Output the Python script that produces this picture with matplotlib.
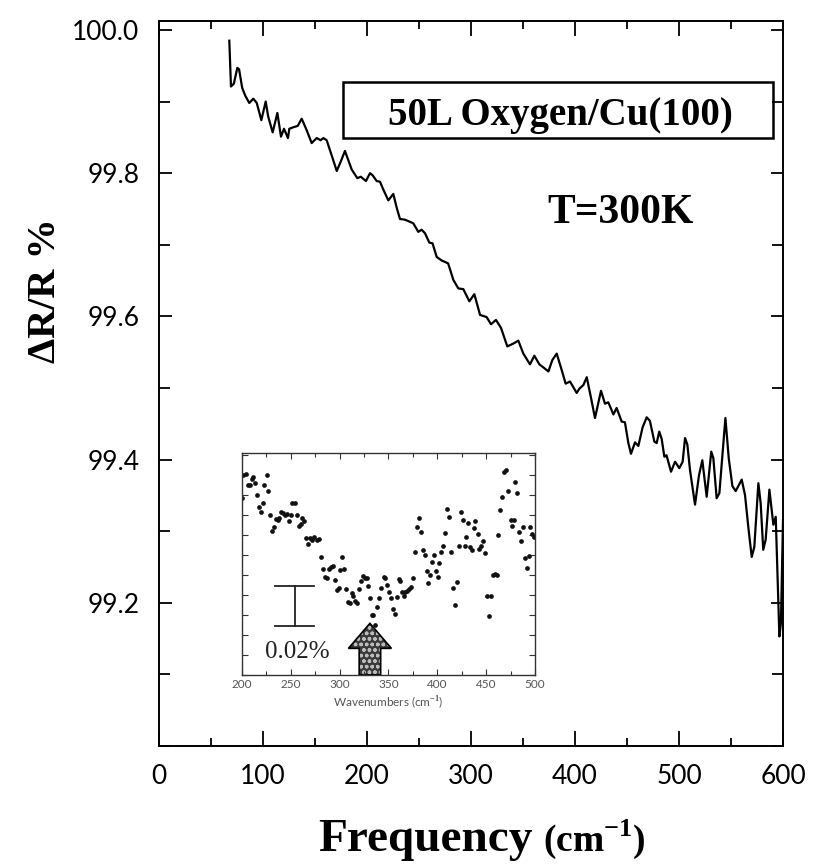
import matplotlib
matplotlib.use("Agg")
import matplotlib.pyplot as plt
from matplotlib.patches import Polygon, Rectangle
from matplotlib.ticker import MultipleLocator, FixedLocator

# main spectrum: frequency (cm-1) vs reflectance (%)
freq = [67.6, 69.2, 72, 75.3, 77, 80, 83, 86.8, 90.7, 94, 98.4, 102.6, 105, 109.3,
        113.8, 117.3, 120.2, 124, 125.3, 129, 133.4, 137.2, 142, 146.8, 151.6, 155.4,
        158, 161.2, 166, 170.9, 174.7, 178.8, 182, 185.3, 190.7, 194, 199, 202.9,
        205.4, 209.3, 212.5, 215.7, 220.5, 225.3, 228.5, 231.7, 236.5, 244.5, 249.3,
        252.5, 255.8, 259.9, 263, 267, 271.8, 278, 283, 287.8, 292.6, 298.4, 303.2,
        308.7, 315, 319.2, 324, 328.8, 334.9, 340.7, 345.5, 350.3, 356.7, 360.9,
        365.7, 370.2, 374.4, 378.2, 382.4, 387.2, 391, 395.2, 398.4, 401.6, 404.2,
        408, 411.3, 415.4, 419.2, 425, 428.8, 432, 436.9, 440, 444.9, 448, 451.3,
        453.8, 457.7, 460.9, 465, 468.9, 472, 476.3, 478.5, 481, 483.3, 485.9, 488,
        492.3, 496.2, 500.3, 503.5, 505.8, 508, 510.6, 515.4, 519.2, 522.4, 526.6,
        531, 533, 536.2, 538.8, 544.6, 547.8, 551.3, 554.5, 560.3, 563.5, 566.6,
        569.9, 572.4, 576.3, 578.5, 581, 583.3, 586.9, 588.5, 590.7, 593, 596.5,
        598, 600]
refl = [99.985, 99.921, 99.925, 99.947, 99.945, 99.919, 99.908, 99.898, 99.904, 99.898,
        99.874, 99.900, 99.879, 99.857, 99.884, 99.851, 99.862, 99.849, 99.862, 99.864,
        99.866, 99.876, 99.860, 99.842, 99.849, 99.846, 99.849, 99.846, 99.825, 99.803,
        99.816, 99.831, 99.818, 99.805, 99.793, 99.795, 99.789, 99.800, 99.797, 99.789,
        99.788, 99.777, 99.762, 99.771, 99.752, 99.736, 99.735, 99.730, 99.718, 99.721,
        99.716, 99.703, 99.702, 99.683, 99.678, 99.674, 99.651, 99.639, 99.638, 99.621,
        99.631, 99.602, 99.599, 99.589, 99.595, 99.584, 99.558, 99.562, 99.566, 99.548,
        99.533, 99.545, 99.533, 99.528, 99.523, 99.539, 99.548, 99.525, 99.506, 99.509,
        99.501, 99.493, 99.499, 99.504, 99.515, 99.486, 99.458, 99.496, 99.478, 99.480,
        99.463, 99.472, 99.453, 99.452, 99.423, 99.408, 99.424, 99.419, 99.445, 99.459,
        99.454, 99.425, 99.423, 99.439, 99.429, 99.404, 99.406, 99.383, 99.397, 99.388,
        99.397, 99.430, 99.421, 99.385, 99.337, 99.378, 99.399, 99.348, 99.411, 99.402,
        99.346, 99.353, 99.458, 99.402, 99.363, 99.356, 99.372, 99.350, 99.306, 99.264,
        99.278, 99.367, 99.339, 99.274, 99.288, 99.358, 99.337, 99.309, 99.320, 99.153,
        99.172, 99.316]
ytick_vals = [99.2, 99.4, 99.6, 99.8, 100.0]

# inset: wavenumbers vs relative change (%)
inset_wn = [200, 201.4, 204.1, 205.8, 208.2, 209.9, 211.6, 213.3, 215, 217.1, 219.4,
            221.2, 222.9, 225.2, 227, 229, 231, 232.8, 234.8, 236.5, 238.2, 240.3,
            242.3, 244, 245.7, 248.1, 249.8, 251.5, 253.9, 256, 258.3, 260, 261.4,
            263.5, 265.5, 267.6, 269.6, 271.6, 274, 276.4, 278.5, 280.9, 283.2, 285.3,
            287, 289.4, 291.4, 293.5, 295.2, 296.9, 298.9, 300.3, 302, 304.4, 306.4,
            308.2, 310.5, 312.6, 313.9, 316, 317.7, 320.1, 322.1, 323.5, 325.6, 327.6,
            329.3, 331, 332.7, 334.4, 336.1, 337.8, 340.6, 342.6, 345, 346.4, 348.1,
            350.5, 352.2, 354.2, 356.3, 358.3, 360.4, 362.1, 363.4, 365.5, 367.2, 369.2,
            371.3, 373.3, 375.4, 377.4, 379.1, 381.2, 383.2, 384.9, 387.3, 389, 390.7,
            392.8, 394.8, 396.9, 398.6, 400.3, 402, 404, 406.1, 408.1, 409.8, 412.2,
            414.3, 416.3, 418, 419.7, 421.8, 423.8, 425.9, 427.9, 429.6, 431.7, 433.4,
            435.1, 437.5, 438.8, 441.2, 442.9, 444.6, 446.6, 448.7, 450.4, 453.2, 455.2,
            456.6, 459, 461, 462.4, 464.1, 466.1, 468.2, 470.2, 472.3, 475, 476.7,
            478.4, 479.5, 481.9, 483.6, 485.3, 487.3, 489.7, 491.4, 493.4, 494.8, 496.9,
            499.2]
inset_dr = [0.0883, 0.1000, 0.1005, 0.0950, 0.0950, 0.0978, 0.0988, 0.0962, 0.0900,
            0.0842, 0.0817, 0.0858, 0.0950, 0.0998, 0.0922, 0.0798, 0.0722, 0.0742,
            0.0778, 0.0775, 0.0783, 0.0817, 0.0808, 0.0800, 0.0805, 0.0770, 0.0800,
            0.0858, 0.0862, 0.0800, 0.0745, 0.0755, 0.0787, 0.0772, 0.0683, 0.0655,
            0.0683, 0.0675, 0.0688, 0.0675, 0.0678, 0.0592, 0.0528, 0.0488, 0.0483,
            0.0528, 0.0538, 0.0545, 0.0475, 0.0425, 0.0433, 0.0525, 0.0592, 0.0532,
            0.0428, 0.0365, 0.0358, 0.0408, 0.0395, 0.0372, 0.0362, 0.0428, 0.0472,
            0.0495, 0.0483, 0.0483, 0.0445, 0.0387, 0.0300, 0.0300, 0.0250, 0.0342,
            0.0383, 0.0433, 0.0492, 0.0483, 0.0450, 0.0417, 0.0383, 0.0328, 0.0305,
            0.0392, 0.0478, 0.0472, 0.0417, 0.0395, 0.0417, 0.0420, 0.0428, 0.0438,
            0.0487, 0.0617, 0.0738, 0.0787, 0.0717, 0.0625, 0.0600, 0.0522, 0.0462,
            0.0500, 0.0567, 0.0600, 0.0522, 0.0488, 0.0558, 0.0617, 0.0647, 0.0708,
            0.0828, 0.0788, 0.0617, 0.0433, 0.0350, 0.0467, 0.0647, 0.0817, 0.0775,
            0.0647, 0.0688, 0.0762, 0.0638, 0.0625, 0.0733, 0.0770, 0.0705, 0.0628,
            0.0645, 0.0672, 0.0612, 0.0395, 0.0295, 0.0395, 0.0500, 0.0503, 0.0500,
            0.0700, 0.0825, 0.0892, 0.1017, 0.1025, 0.0922, 0.0775, 0.0745, 0.0775,
            0.0967, 0.0908, 0.0713, 0.0672, 0.0738, 0.0583, 0.0537, 0.0595, 0.0738,
            0.0705, 0.0688]

# scale bar (0.02 %) and arrow marking the dip
bar_x, bar_lo, bar_hi, bar_cap = 254, 0.0245, 0.0445, 20
arrow_x, arrow_tip, arrow_neck, head_half, shaft_half = 331, 0.0258, 0.0133, 22, 11

plt.rcParams['font.family'] = ['Lato', 'DejaVu Sans']
serif = ['Liberation Serif', 'DejaVu Serif']
plt.rcParams['mathtext.fontset'] = 'custom'
plt.rcParams['mathtext.rm'] = 'Liberation Serif:bold'
plt.rcParams['mathtext.bf'] = 'Liberation Serif:bold'

fig = plt.figure(figsize=(8.2, 8.68), dpi=100)
ax = fig.add_axes([0.1939, 0.1406, 0.761, 0.8353])
ax.plot(freq, refl, color='black', lw=1.6)
ax.set_xlim(0, 600)
ax.set_ylim(99.0, 100.0126)
ax.xaxis.set_major_locator(MultipleLocator(100))
ax.xaxis.set_minor_locator(MultipleLocator(50))
ax.yaxis.set_major_locator(FixedLocator(ytick_vals))
ax.yaxis.set_minor_locator(MultipleLocator(0.1))
ax.yaxis.set_major_formatter(plt.FormatStrFormatter('%.1f'))
ax.tick_params(which='both', direction='in', top=True, right=True, width=1.3,
               labelsize=19, colors='black')
ax.tick_params(axis='x', which='major', length=11, pad=13)
ax.tick_params(axis='x', which='minor', length=6)
ax.tick_params(axis='y', which='major', length=9, pad=14)
ax.tick_params(axis='y', which='minor', length=8)
for s in ax.spines.values():
    s.set_linewidth(1.4)

# labels
fig.text(0.055, 0.665, 'ΔR/R %', rotation=90, ha='center', va='center',
         fontsize=29, fontweight='bold', family=serif)
fig.text(0.388, 0.020, 'Frequency', ha='left', va='baseline',
         fontsize=34, fontweight='bold', family=serif)
fig.text(0.662, 0.020, r'(cm$^{\mathbf{-1}}$)', ha='left', va='baseline',
         fontsize=27, fontweight='bold', family=serif)

# annotation box and temperature
fig.add_artist(Rectangle((0.4187, 0.8407), 0.5244, 0.0645, transform=fig.transFigure,
                         fill=False, edgecolor='black', lw=1.8))
fig.text(0.683, 0.856, '50L Oxygen/Cu(100)', ha='center', va='baseline',
         fontsize=28, fontweight='bold', family=serif)
fig.text(0.757, 0.7434, 'T=300K', ha='center', va='baseline',
         fontsize=30, fontweight='bold', family=serif)

# inset
ins = fig.add_axes([0.2951, 0.2224, 0.3573, 0.2558])
ins.plot(inset_wn, inset_dr, 'o', color='#111111', ms=3.4, mew=0)
ins.set_xlim(200, 500)
ins.set_ylim(0, 0.111)
ins.xaxis.set_major_locator(MultipleLocator(50))
ins.xaxis.set_minor_locator(MultipleLocator(25))
ins.yaxis.set_major_locator(MultipleLocator(0.01))
ins.set_yticklabels([])
ins.tick_params(which='both', direction='in', top=True, right=True, width=0.8,
                color='#333333', labelsize=8.5, labelcolor='#555555', pad=3)
ins.tick_params(which='major', length=4)
ins.tick_params(which='minor', length=3)
for s in ins.spines.values():
    s.set_linewidth(1.0)
    s.set_color('#333333')
ins.set_xlabel('Wavenumbers (cm$^{-1}$)', fontsize=8.5, color='#555555', labelpad=3,
               family=['Lato', 'DejaVu Sans'])

ins.plot([bar_x, bar_x], [bar_lo, bar_hi], color='#222222', lw=1.3)
ins.plot([bar_x - bar_cap, bar_x + bar_cap], [bar_lo, bar_lo], color='#222222', lw=1.3)
ins.plot([bar_x - bar_cap, bar_x + bar_cap], [bar_hi, bar_hi], color='#222222', lw=1.3)
ins.text(257, 0.0115, '0.02%', ha='center', va='center', fontsize=18, family=serif,
         color='#222222')

arrow_pts = [(arrow_x - shaft_half, 0), (arrow_x - shaft_half, arrow_neck),
             (arrow_x - head_half, arrow_neck), (arrow_x, arrow_tip),
             (arrow_x + head_half, arrow_neck), (arrow_x + shaft_half, arrow_neck),
             (arrow_x + shaft_half, 0)]
ins.add_patch(Polygon(arrow_pts, closed=True, facecolor='#3a3a3a', edgecolor='none'))
ins.add_patch(Polygon(arrow_pts, closed=True, facecolor='none', edgecolor='#bbbbbb',
                      hatch='ooo', lw=0))
ins.add_patch(Polygon(arrow_pts, closed=True, facecolor='none', edgecolor='black', lw=1.2))

fig.savefig('out.png', dpi=100)
